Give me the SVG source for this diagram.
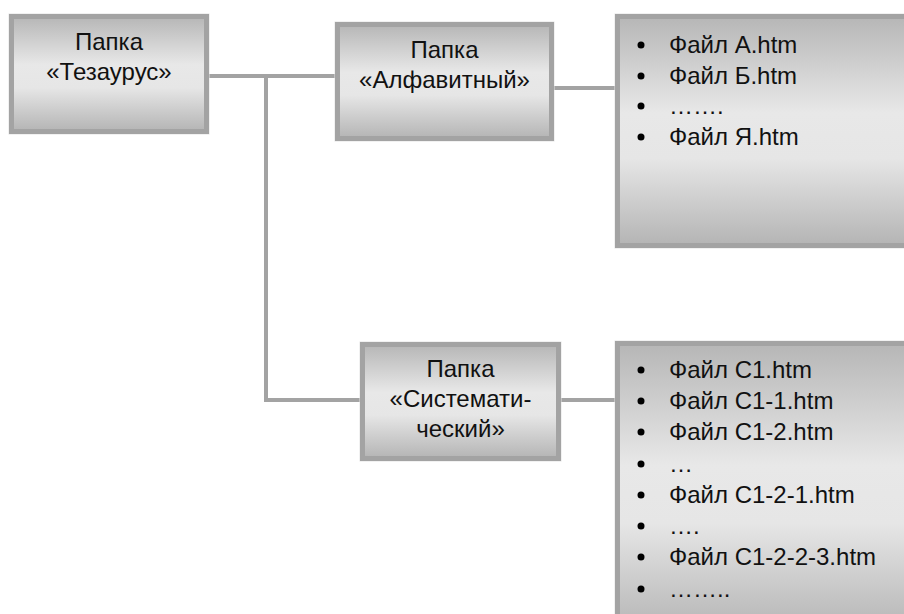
<svg xmlns="http://www.w3.org/2000/svg" width="904" height="614" viewBox="0 0 904 614">
<defs>
<linearGradient id="g" x1="0" y1="0" x2="0" y2="1">
<stop offset="0" stop-color="#b6b6b6"/>
<stop offset="0.42" stop-color="#e8e8e8"/>
<stop offset="0.62" stop-color="#e6e6e6"/>
<stop offset="1" stop-color="#b4b4b4"/>
</linearGradient>
<style>
.box{fill:url(#g);stroke:#a3a3a3;stroke-width:5}
.halo{fill:none;stroke:#e4e4e4;stroke-width:1}
.t{font-family:"Liberation Sans",Arial,sans-serif;font-size:24px;fill:#111}
.c{text-anchor:middle}
.ln{fill:none;stroke:#a3a3a3;stroke-width:4}
.b{fill:#000}
</style>
</defs>
<rect width="904" height="614" fill="#fff"/>
<g id="connectors">
<path class="ln" d="M209 76 H335"/>
<path class="ln" d="M266 76 V400 H360"/>
<path class="ln" d="M554 88 H615"/>
<path class="ln" d="M561 400 H617"/>
</g>
<g id="n1">
<rect class="halo" x="9" y="14" width="200" height="120"/>
<rect class="box" x="11.5" y="16.5" width="195" height="115"/>
<text class="t c" x="109" y="50">Папка</text>
<text class="t c" x="109" y="80">«Тезаурус»</text>
</g>
<g id="n2">
<rect class="halo" x="335" y="22" width="219" height="119"/>
<rect class="box" x="337.5" y="24.5" width="214" height="114"/>
<text class="t c" x="444.5" y="58">Папка</text>
<text class="t c" x="444.5" y="88">«Алфавитный»</text>
</g>
<g id="n3">
<rect class="halo" x="615" y="14" width="300" height="234"/>
<rect class="box" x="617.5" y="16.5" width="300" height="229"/>
<circle class="b" cx="641" cy="45" r="3.5"/><text class="t" x="669" y="53">Файл А.htm</text>
<circle class="b" cx="641" cy="76" r="3.5"/><text class="t" x="669" y="84">Файл Б.htm</text>
<circle class="b" cx="641" cy="106" r="3.5"/><text class="t" x="669" y="114">…….</text>
<circle class="b" cx="641" cy="137" r="3.5"/><text class="t" x="669" y="145">Файл Я.htm</text>
</g>
<g id="n4">
<rect class="halo" x="360" y="342" width="201" height="119"/>
<rect class="box" x="362.5" y="344.5" width="196" height="114"/>
<text class="t c" x="460.5" y="377">Папка</text>
<text class="t c" x="460.5" y="407">«Системати-</text>
<text class="t c" x="460.5" y="437">ческий»</text>
</g>
<g id="n5">
<rect class="halo" x="615" y="341" width="300" height="290"/>
<rect class="box" x="617.5" y="343.5" width="300" height="290"/>
<circle class="b" cx="641" cy="370" r="3.5"/><text class="t" x="669" y="378">Файл С1.htm</text>
<circle class="b" cx="641" cy="401" r="3.5"/><text class="t" x="669" y="409">Файл С1-1.htm</text>
<circle class="b" cx="641" cy="432" r="3.5"/><text class="t" x="669" y="440">Файл С1-2.htm</text>
<circle class="b" cx="641" cy="464" r="3.5"/><text class="t" x="669" y="472">…</text>
<circle class="b" cx="641" cy="495" r="3.5"/><text class="t" x="669" y="503">Файл С1-2-1.htm</text>
<circle class="b" cx="641" cy="526" r="3.5"/><text class="t" x="669" y="534">….</text>
<circle class="b" cx="641" cy="557" r="3.5"/><text class="t" x="669" y="565">Файл С1-2-2-3.htm</text>
<circle class="b" cx="641" cy="589" r="3.5"/><text class="t" x="669" y="597">……..</text>
</g>
</svg>
